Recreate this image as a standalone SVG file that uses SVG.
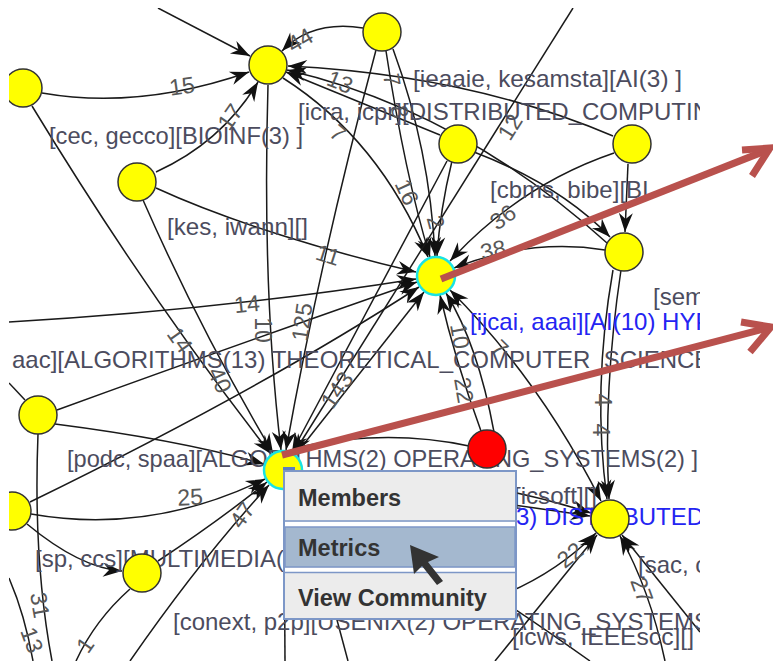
<svg xmlns="http://www.w3.org/2000/svg" width="773" height="661" viewBox="0 0 773 661">
<style>
.e{fill:none;stroke:#1a1a1a;stroke-width:1.5}
.a{marker-end:url(#ah)}
.n{fill:#ffff00;stroke:#333;stroke-width:1.5}
.sel{stroke:#19e3e3;stroke-width:2.5}
.lbl{font-family:"Liberation Sans",Arial,sans-serif;font-size:24px;fill:#4c4c5e}
.blue{fill:#2424f2}
.el{font-family:"Liberation Sans",Arial,sans-serif;font-size:23px;fill:#585858;text-anchor:middle}
.red{fill:none;stroke:#b9514d;stroke-width:7}
.mi{font-family:"Liberation Sans",Arial,sans-serif;font-size:23.5px;font-weight:bold;fill:#333}
.sep{stroke:#7d97c7;stroke-width:1.5}
</style>
<defs>
<marker id="ah" markerUnits="userSpaceOnUse" viewBox="-20 -8 22 16" refX="0" refY="0" markerWidth="22" markerHeight="16" orient="auto"><path d="M0,0 L-19,-7 L-13,0 L-19,7 Z" fill="#111"/></marker>
<marker id="ahs" markerUnits="userSpaceOnUse" viewBox="-20 -8 22 16" refX="0" refY="0" markerWidth="22" markerHeight="16" orient="auto-start-reverse"><path d="M0,0 L-19,-7 L-13,0 L-19,7 Z" fill="#111"/></marker>
<clipPath id="gc"><rect x="9" y="8" width="691" height="653"/></clipPath>
</defs>
<rect width="773" height="661" fill="#fff"/>
<g clip-path="url(#gc)">
<g id="edges">
<path class="e a" d="M158,8 L250,56"/>
<path class="e a" d="M42,93 Q140,110 249,72"/>
<path class="e a" d="M363,28 Q312,20 282,51"/>
<path class="e a" d="M156,172 Q222,142 258,82"/>
<path class="e a" d="M440,135 L286,72"/>
<path class="e a" d="M613,136 Q470,75 288,66"/>
<path class="e a" d="M607,243 Q460,110 287,70"/>
<path class="e a" d="M283,78 Q380,140 428,257"/>
<path class="e a" d="M268,85 Q262,290 281,450"/>
<path class="e a" d="M386,51 Q405,175 430,257"/>
<path class="e a" d="M393,49 Q430,150 435,256"/>
<path class="e a" d="M376,50 Q320,260 286,450"/>
<path class="e a" d="M32,106 Q150,300 271,454"/>
<path class="e a" d="M156,188 C230,222 330,252 416,272"/>
<path class="e a" d="M143,200 Q200,330 273,453"/>
<path class="e a" d="M452,161 Q440,210 437,256"/>
<path class="e a" d="M447,161 L292,452"/>
<path class="e a" d="M474,152 Q560,185 610,237"/>
<path class="e a" d="M614,153 Q520,185 450,261"/>
<path class="e a" d="M628,164 L625,232"/>
<path class="e a" d="M605,250 Q530,238 454,268"/>
<path class="e a" d="M613,270 Q592,390 607,499"/>
<path class="e a" d="M621,270 Q603,390 609,499"/>
<path class="e a" d="M9,322 Q220,310 416,279"/>
<path class="e a" d="M57,410 Q250,340 417,282"/>
<path class="e a" d="M30,502 Q260,390 419,287"/>
<path class="e a" d="M296,454 L424,292"/>
<path class="e a" d="M481,431 Q455,360 440,295"/>
<path class="e a" d="M494,432 Q478,345 446,293"/>
<path class="e a" d="M450,290 Q540,380 601,501" marker-start="url(#ahs)"/>
<path class="e a" d="M573,8 L294,453"/>
<path class="e" d="M9,383 L25,400"/>
<path class="e a" d="M55,424 Q180,440 264,464"/>
<path class="e" d="M38,434 Q33,560 52,661"/>
<path class="e a" d="M31,514 Q150,535 265,479"/>
<path class="e a" d="M27,524 Q80,568 122,571"/>
<path class="e a" d="M158,561 Q220,520 267,482"/>
<path class="e a" d="M130,661 Q200,560 269,485"/>
<path class="e" d="M130,589 Q95,620 76,661"/>
<path class="e" d="M9,578 Q25,615 33,661"/>
<path class="e" d="M304,446 Q390,429 469,446"/>
<path class="e a" d="M301,474 Q450,468 591,513"/>
<path class="e a" d="M301,480 Q450,495 590,516"/>
<path class="e" d="M297,483 Q420,540 590,661"/>
<path class="e" d="M300,482 L348,661"/>
<path class="e" d="M284,489 L285,661"/>
<path class="e a" d="M450,612 Q540,590 596,533"/>
<path class="e a" d="M495,661 L597,535"/>
<path class="e a" d="M665,661 Q650,590 620,536"/>
<path class="e a" d="M700,632 L622,535"/>
</g>
<g id="edge-labels">
<text class="el" transform="translate(300,40) rotate(-30)" y="8">44</text>
<text class="el" transform="translate(182,86) rotate(-8)" y="8">15</text>
<text class="el" transform="translate(230,117) rotate(-55)" y="8">17</text>
<text class="el" transform="translate(340,82) rotate(22)" y="8">13</text>
<text class="el" transform="translate(392,80) rotate(80)" y="8">7</text>
<text class="el" transform="translate(400,112) rotate(80)" y="8">8</text>
<text class="el" transform="translate(338,133) rotate(40)" y="8">7</text>
<text class="el" transform="translate(510,127) rotate(-58)" y="8">12</text>
<text class="el" transform="translate(407,192) rotate(65)" y="8">16</text>
<text class="el" transform="translate(436,222) rotate(75)" y="8">2</text>
<text class="el" transform="translate(503,217) rotate(-35)" y="8">36</text>
<text class="el" transform="translate(493,250) rotate(-12)" y="8">38</text>
<text class="el" transform="translate(328,255) rotate(18)" y="8">11</text>
<text class="el" transform="translate(247,304) rotate(-6)" y="8">14</text>
<text class="el" transform="translate(263,330) rotate(90)" y="8">10</text>
<text class="el" transform="translate(302,322) rotate(-82)" y="8">125</text>
<text class="el" transform="translate(337,390) rotate(-55)" y="8">143</text>
<text class="el" transform="translate(180,340) rotate(55)" y="8">14</text>
<text class="el" transform="translate(220,380) rotate(65)" y="8">40</text>
<text class="el" transform="translate(460,336) rotate(80)" y="8">10</text>
<text class="el" transform="translate(464,390) rotate(80)" y="8">22</text>
<text class="el" transform="translate(500,348) rotate(45)" y="8">7</text>
<text class="el" transform="translate(603,400) rotate(90)" y="8">4</text>
<text class="el" transform="translate(601,430) rotate(90)" y="8">4</text>
<text class="el" transform="translate(190,497) rotate(-3)" y="8">25</text>
<text class="el" transform="translate(242,515) rotate(-55)" y="8">47</text>
<text class="el" transform="translate(570,555) rotate(-38)" y="8">22</text>
<text class="el" transform="translate(642,590) rotate(70)" y="8">27</text>
<text class="el" transform="translate(40,605) rotate(80)" y="8">31</text>
<text class="el" transform="translate(32,640) rotate(70)" y="8">13</text>
<text class="el" transform="translate(85,645) rotate(-55)" y="8">1</text>
</g>
<g id="node-labels">
<text class="lbl" x="49" y="144" textLength="254" lengthAdjust="spacingAndGlyphs">[cec, gecco][BIOINF(3) ]</text>
<text class="lbl" x="167" y="235" textLength="141" lengthAdjust="spacingAndGlyphs">[kes, iwann][]</text>
<text class="lbl" x="413" y="87" textLength="269" lengthAdjust="spacingAndGlyphs">[ieaaie, kesamsta][AI(3) ]</text>
<text class="lbl" x="298" y="120">[icra, icpr][DISTRIBUTED_COMPUTIN</text>
<text class="lbl" x="490" y="198">[cbms, bibe][BI</text>
<text class="lbl" x="653" y="305">[sem</text>
<text class="lbl blue" x="470" y="330">[ijcai, aaai][AI(10) HYP</text>
<text class="lbl" x="12" y="368">aac][ALGORITHMS(13) THEORETICAL_COMPUTER_SCIENCE</text>
<text class="lbl" x="67" y="467" textLength="631" lengthAdjust="spacingAndGlyphs">[podc, spaa][ALGORITHMS(2) OPERATING_SYSTEMS(2) ]</text>
<text class="lbl" x="514" y="504" textLength="83" lengthAdjust="spacingAndGlyphs">[icsoft][]</text>
<text class="lbl blue" x="508" y="525">(3) DISTRIBUTED</text>
<text class="lbl" x="35" y="567">[sp, ccs][MULTIMEDIA(2</text>
<text class="lbl" x="638" y="573">[sac, c</text>
<text class="lbl" x="173" y="630">[conext, p2p][USENIX(2) OPERATING_SYSTEMS</text>
<text class="lbl" x="512" y="645" textLength="182" lengthAdjust="spacingAndGlyphs">[icws, IEEEscc][]</text>
</g>
<g id="nodes">
<g id="n1"><circle class="n" cx="268" cy="65" r="19"/></g>
<g id="n2"><circle class="n" cx="382" cy="32" r="19"/></g>
<g id="n3"><circle class="n" cx="23" cy="88" r="19"/></g>
<g id="n4"><circle class="n" cx="137" cy="182" r="19"/></g>
<g id="n5"><circle class="n" cx="458" cy="144" r="19"/></g>
<g id="n6"><circle class="n" cx="632" cy="144" r="19"/></g>
<g id="n7"><circle class="n" cx="624" cy="252" r="19"/></g>
<g id="n8"><circle class="n sel" cx="436" cy="276" r="19"/></g>
<g id="n9"><circle class="n" cx="38" cy="415" r="19"/></g>
<g id="n10"><circle class="n" cx="12" cy="511" r="19"/></g>
<g id="n11"><circle class="n" cx="142" cy="573" r="19"/></g>
<g id="n12"><circle class="n sel" cx="283" cy="470" r="19"/></g>
<g id="n13"><circle class="n" cx="487" cy="449" r="19" style="fill:#ff0000"/></g>
<g id="n14"><circle class="n" cx="610" cy="519" r="19"/></g>
</g>
</g>
<g id="annotations">
<path class="red" d="M441,279 L770,149"/>
<path class="red" d="M742,150 L770,148 L752,176"/>
<path class="red" d="M282,455 L771,327"/>
<path class="red" d="M741,322 L771,327 L750,352"/>
</g>
<g id="menu">
<rect x="283" y="467" width="12" height="6" fill="#5d7fc0"/>
<rect x="284" y="471" width="232" height="148" fill="#ececec" stroke="#7d97c7" stroke-width="2"/>
<rect x="285" y="522" width="230" height="5" fill="#fff"/>
<line class="sep" x1="285" y1="521" x2="515" y2="521"/>
<rect x="285" y="527" width="230" height="40" fill="#a4b8cf" stroke="#7d97c7" stroke-width="1.5"/>
<rect x="285" y="568" width="230" height="4" fill="#fff"/>
<line class="sep" x1="285" y1="572.5" x2="515" y2="572.5"/>
<text class="mi" x="298" y="506">Members</text>
<text class="mi" x="298" y="556">Metrics</text>
<text class="mi" x="298" y="606">View Community</text>
</g>
<g id="cursor">
<polygon points="410,545 414,574 422,566 437,585 443,581 428,562 439,557" fill="#333"/>
</g>
</svg>
